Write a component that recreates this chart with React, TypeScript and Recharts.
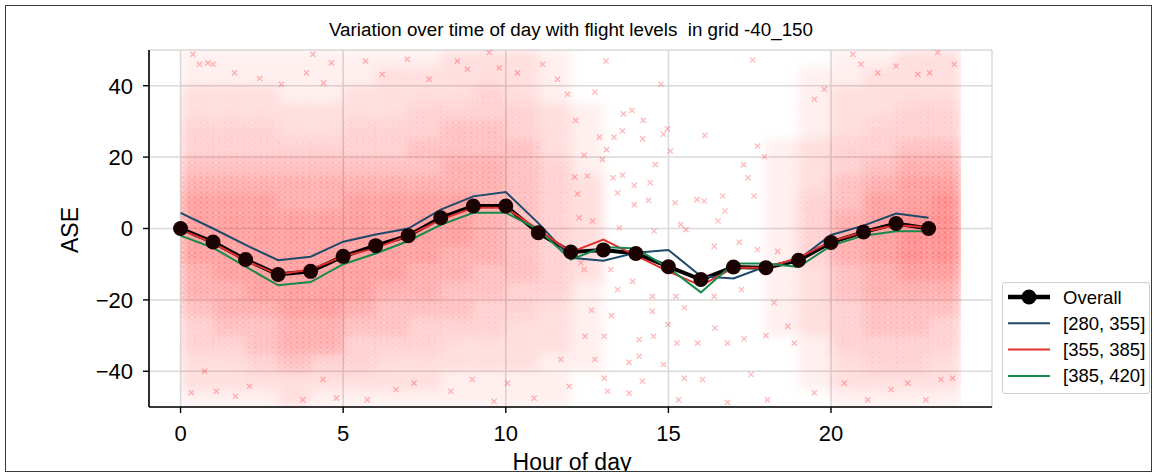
import React from "react"
import {
  ComposedChart,
  Line,
  Scatter,
  XAxis,
  YAxis,
  CartesianGrid,
  ReferenceArea,
} from "recharts"

const FONT = '"Liberation Sans", Arial, Helvetica, sans-serif'

const TITLE = "Variation over time of day with flight levels  in grid -40_150"

const HOURS = [0, 1, 2, 3, 4, 5, 6, 7, 8, 9, 10, 11, 12, 13, 14, 15, 16, 17, 18, 19, 20, 21, 22, 23]
const X_TICKS = [0, 5, 10, 15, 20]
const Y_TICKS = [-40, -20, 0, 20, 40]

// mean ASE per hour
const OVERALL = [0, -3.8, -8.7, -12.9, -12, -7.8, -4.8, -2, 3, 6.3, 6.3, -1.2, -6.6, -6, -7, -10.7, -14.3, -10.8, -11, -8.9, -3.9, -1, 1.4, 0]
const FL_280_355 = [4.4, 0, -4.6, -8.9, -7.9, -3.7, -1.7, 0, 5.3, 9, 10.2, 1.5, -8.2, -9, -6.8, -6, -13.4, -14, -10.6, -8.7, -1.8, 0.8, 4.2, 3]
const FL_355_385 = [-0.3, -4, -9, -12.9, -11.5, -7.8, -5.5, -2, 2.5, 5.8, 5.8, -0.3, -6.6, -3.1, -7.6, -12, -16, -11, -11, -8.2, -3.6, -1, 1, 0.3]
const FL_385_420 = [-2, -5.4, -10.7, -15.9, -15, -10, -7, -3.5, 1, 4.4, 4.4, -0.3, -8.7, -5.2, -5.6, -11, -17.9, -9.8, -9.8, -10.8, -4.8, -2, -0.8, -0.8]

const SERIES = [
  { key: "overall", name: "Overall", color: "#000000", values: OVERALL },
  { key: "fl1", name: "[280, 355]", color: "#1d4a6b", values: FL_280_355 },
  { key: "fl2", name: "[355, 385]", color: "#e2312b", values: FL_355_385 },
  { key: "fl3", name: "[385, 420]", color: "#168a4c", values: FL_385_420 },
]

// scatter cloud, as density per hour bin; each string runs over 5-unit ASE bands from +50 down to -50
const BAND_TOPS = [50, 45, 40, 35, 30, 25, 20, 15, 10, 5, 0, -5, -10, -15, -20, -25, -30, -35, -40, -45]
const HAZE_DENSITY = [
  "11223345666655433221",
  "11223345666665543221",
  "11223345666666544321",
  "11122345566666655422",
  "11122345566666655321",
  "11223345666666543321",
  "12223345666665443221",
  "12233445666655433221",
  "22234455666554432211",
  "22334455555544332211",
  "22233444444443322211",
  "11122233333333222111",
  "00011112222221111100",
  "00000000000000000000",
  "00000000000000000000",
  "00000000000000000000",
  "00000000000000000000",
  "00000000000000000000",
  "00000111111111110000",
  "01111222333322221110",
  "11222334455544333221",
  "12223345666655443321",
  "22233456677765443321",
  "22233456777765433221",
]

// single samples that stand out: the thin midday part and the edges of the cloud [hour, ASE]
const SPARSE_POINTS: [number, number][] = [
  [13.08, 46.9], [14.77, 40.4], [12.74, 38.2], [13.88, 33.1], [13.62, 32.1], [14.23, 30.3],
  [12.15, 30.3], [12.88, 25.6], [13.33, 25.6], [13.59, 27.3], [14.21, 25.1], [14.85, 26.4],
  [14.97, 27.9], [16.12, 26.1], [17.59, 47.2], [17.74, 23.1], [13.1, 22.1], [12.41, 20.5],
  [12.97, 19.3], [14.6, 17.9], [15.06, 21.7], [17.31, 17.9], [17.95, 20.1], [12.12, 14.4],
  [12.51, 14.7], [13.3, 14.2], [13.59, 14.9], [13.95, 12.1], [14.44, 12.8], [12.21, 9.7],
  [13.44, 10], [13.95, 6.7], [14.39, 7.9], [15.21, 7.2], [16.1, 7.7], [16.67, 9.1],
  [17.45, 14.2], [17.63, 9.1], [16.53, 2.1], [16.74, 4.9], [15.88, 8.1], [15.38, 1.1],
  [12.26, 3], [12.67, 2.1], [13.49, 0.2], [14.56, -0.7], [15.54, -0.3], [16.41, -5],
  [17.18, -3.8], [17.74, -5.9], [18.36, -6.4], [12.31, -9.6], [12.41, -11.5], [13.23, -11.5],
  [13.9, -14.8], [13.44, -17.1], [14.51, -19], [15.23, -19], [15.49, -22.2], [16.41, -19],
  [17.25, -17.1], [18.25, -20.8], [12.64, -22.9], [13.25, -24.4], [14.51, -23.2], [14.99, -26.9],
  [12.44, -30.2], [13.03, -30.2], [14.1, -31.1], [14.54, -30.2], [15.26, -32.1], [15.9, -32.1],
  [16.43, -27.9], [16.82, -32.1], [17.33, -30.9], [18, -30], [14.1, -35.8], [13.79, -37.5],
  [12.74, -36.7], [13.03, -41.9], [14.2, -42.8], [14.85, -38.1], [15.49, -41.9], [16.05, -42.3],
  [17.54, -40.9], [13.13, -45.6], [13.79, -46.1], [15.31, -48], [16.82, -48.7], [18.05, -48],
  [0.38, 48.8], [0.58, 46], [0.84, 46.4], [1, 46], [1.66, 43.6], [2.43, 42], [3.1, 40.4],
  [3.87, 43.6], [4.07, 48.8], [4.64, 46.4], [4.4, 40.8], [0.33, -46], [0.74, -40], [1.1, -45.6],
  [1.69, -47], [2.12, -44.2], [3.76, -48], [4.38, -42.3], [4.79, -47.5], [5.69, 46.9],
  [6.2, 43.2], [6.97, 47.4], [7.64, 41.8], [8.51, 46.9], [8.82, 44.6], [9.49, 49.3], [9.8, 45],
  [10.36, 43.6], [11.13, 46], [11.59, 41.8], [11.9, 37.6], [5.74, -48], [6.62, -45.1],
  [7.18, -43.3], [8.31, -45.6], [8.97, -42.3], [9.64, -48.4], [10.05, -43.3], [10.87, -47.5],
  [11.69, -36.7], [11.95, -44.2], [20.67, 48.8], [20.92, 46], [21.44, 43.6], [22, 45.5],
  [22.67, 43.2], [23.03, 43.6], [23.28, 49.3], [23.79, 46], [19.49, 36.2], [19.79, 39],
  [19.49, -46], [20.41, -43.3], [21.13, -48], [21.85, -45.1], [22.36, -43.3], [22.92, -48],
  [23.38, -42.3], [23.74, -41.9], [18.87, -32.1], [18.67, -27.4],
]

const lineRows = HOURS.map((hour, i) => {
  const row: Record<string, number> = { hour }
  for (const s of SERIES) row[s.key] = s.values[i]
  return row
})

const sparseRows = SPARSE_POINTS.map(([hour, ase]) => ({ hour, ase }))

const minus = (v: number) => String(v).replace("-", "\u2212")

// clip region for the soft cloud, sized by the axes
const hazeClip = (p: any) => (
  <defs>
    <clipPath id="hazeClip">
      <rect x={p.x} y={p.y} width={p.width} height={p.height} />
    </clipPath>
  </defs>
)

const hazeCell = (level: number) => (p: any) => (
  <g clipPath="url(#hazeClip)">
    <rect
      x={p.x}
      y={p.y}
      width={p.width}
      height={p.height}
      fill="#ff1a1a"
      fillOpacity={level * 0.064}
      filter="url(#soft)"
    />
    {level >= 3 && (
      <rect
        x={p.x}
        y={p.y}
        width={p.width}
        height={p.height}
        fill="url(#xmarks)"
        fillOpacity={(level - 2) * 0.06}
      />
    )}
  </g>
)

const XMark = (props: any) => {
  const { cx, cy } = props
  if (cx == null || cy == null) return <g />
  const d = 2.6
  return (
    <path
      d={`M${cx - d},${cy - d}L${cx + d},${cy + d}M${cx + d},${cy - d}L${cx - d},${cy + d}`}
      stroke="#ff0000"
      strokeOpacity={0.28}
      strokeWidth={1.3}
    />
  )
}

const tickStyle = { fill: "#000", fontSize: 22, fontFamily: FONT }

function LegendBox() {
  return (
    <div
      style={{
        position: "absolute",
        left: 1002,
        top: 282,
        width: 148,
        height: 112,
        border: "1px solid #cfcfcf",
        borderRadius: 3,
        background: "#fff",
        boxSizing: "border-box",
      }}
    >
      <svg width={146} height={110}>
        {SERIES.map((s, i) => {
          const cy = 14 + i * 26.3
          const isOverall = s.key === "overall"
          return (
            <g key={s.key}>
              <line
                x1={5}
                x2={47}
                y1={cy}
                y2={cy}
                stroke={s.color}
                strokeWidth={isOverall ? 4.5 : 2}
              />
              {isOverall && <circle cx={26} cy={cy} r={7.5} fill="#000" />}
              <text
                x={60}
                y={cy}
                dominantBaseline="central"
                fontSize={18.5}
                fontFamily={FONT}
                fill="#000"
              >
                {s.name}
              </text>
            </g>
          )
        })}
      </svg>
    </div>
  )
}

export default function App() {
  return (
    <div style={{ position: "absolute", left: 0, top: 0, width: 1154, height: 475, background: "#fff" }}>
      <svg width={0} height={0} style={{ position: "absolute" }}>
        <defs>
          <pattern id="xmarks" width={6} height={5} patternUnits="userSpaceOnUse">
            <path d="M1,0.5L5,4.5M5,0.5L1,4.5" stroke="#ff0000" strokeWidth={0.9} fill="none" />
          </pattern>
          <filter id="soft" x="-100%" y="-150%" width="300%" height="400%">
            <feGaussianBlur stdDeviation={6} />
          </filter>
        </defs>
      </svg>

      <ComposedChart
        width={1154}
        height={475}
        margin={{ top: 50, right: 162, bottom: 0, left: 0 }}
      >
        <CartesianGrid stroke="#dadada" strokeWidth={1.5} />
        <XAxis
          dataKey="hour"
          type="number"
          domain={[-0.97, 24.95]}
          ticks={X_TICKS}
          allowDataOverflow
          height={68}
          tick={tickStyle}
          tickSize={6}
          tickMargin={12}
          axisLine={{ stroke: "#000", strokeWidth: 1.6 }}
          tickLine={{ stroke: "#000", strokeWidth: 1.4 }}
        />
        <XAxis
          xAxisId="top"
          orientation="top"
          type="number"
          domain={[-0.97, 24.95]}
          height={0}
          tick={false}
          tickLine={false}
          axisLine={{ stroke: "#000", strokeWidth: 1.6 }}
        />
        <YAxis
          type="number"
          domain={[-50, 50]}
          ticks={Y_TICKS}
          allowDataOverflow
          width={149}
          tick={tickStyle}
          tickFormatter={minus}
          tickSize={6}
          tickMargin={10}
          axisLine={{ stroke: "#000", strokeWidth: 1.6 }}
          tickLine={{ stroke: "#000", strokeWidth: 1.4 }}
        />
        <YAxis
          yAxisId="right"
          orientation="right"
          type="number"
          domain={[-50, 50]}
          width={0}
          tick={false}
          tickLine={false}
          axisLine={{ stroke: "#000", strokeWidth: 1.6 }}
        />

        <ReferenceArea
          x1={HOURS[0]}
          x2={HOURS[HOURS.length - 1] + 1}
          y1={-50}
          y2={50}
          ifOverflow="visible"
          shape={hazeClip}
        />

        {HAZE_DENSITY.flatMap((col, h) =>
          BAND_TOPS.map((top, b) => {
            const level = Number(col[b])
            if (!level) return null
            return (
              <ReferenceArea
                key={`haze-${h}-${b}`}
                x1={HOURS[h]}
                x2={HOURS[h] + 1}
                y1={top - 5}
                y2={top}
                ifOverflow="visible"
                shape={hazeCell(level)}
              />
            )
          })
        )}

        <Scatter
          data={sparseRows}
          dataKey="ase"
          shape={XMark}
          isAnimationActive={false}
        />

        {SERIES.map((s) =>
          s.key === "overall" ? (
            <Line
              key={s.key}
              data={lineRows}
              dataKey={s.key}
              stroke={s.color}
              strokeWidth={4}
              dot={{ r: 7.5, fill: "#1c0303", stroke: "#1c0303", strokeWidth: 0 }}
              activeDot={false}
              isAnimationActive={false}
            />
          ) : (
            <Line
              key={s.key}
              data={lineRows}
              dataKey={s.key}
              stroke={s.color}
              strokeWidth={2}
              dot={false}
              activeDot={false}
              isAnimationActive={false}
            />
          )
        )}
      </ComposedChart>

      <div
        style={{
          position: "absolute",
          left: 571,
          top: 21,
          transform: "translateX(-50%)",
          whiteSpace: "pre",
          fontFamily: FONT,
          fontSize: 18.8,
          lineHeight: 1,
          color: "#000",
        }}
      >
        {TITLE}
      </div>

      <div
        style={{
          position: "absolute",
          left: 70,
          top: 230,
          transform: "translate(-50%, -50%) rotate(-90deg)",
          fontFamily: FONT,
          fontSize: 23,
          lineHeight: 1,
          color: "#000",
        }}
      >
        ASE
      </div>

      <LegendBox />

      <div
        style={{
          position: "absolute",
          left: 5,
          top: 5,
          width: 1147,
          height: 467,
          border: "1px solid #3a3a3a",
          boxSizing: "border-box",
          overflow: "hidden",
          pointerEvents: "none",
        }}
      >
        <div
          style={{
            position: "absolute",
            left: 566,
            top: 445,
            transform: "translateX(-50%)",
            whiteSpace: "nowrap",
            fontFamily: FONT,
            fontSize: 23,
            lineHeight: 1,
            color: "#000",
          }}
        >
          Hour of day
        </div>
      </div>
    </div>
  )
}
